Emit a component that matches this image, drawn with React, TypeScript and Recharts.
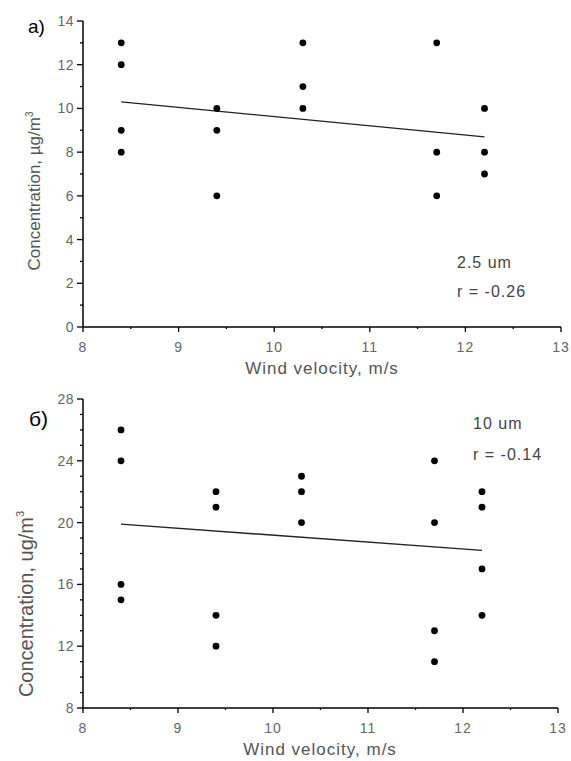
import React from 'react';
import { ScatterChart, Scatter, XAxis, YAxis } from 'recharts';

// wind velocity groups (m/s)
const windA = [8.4, 8.4, 8.4, 8.4, 9.4, 9.4, 9.4, 10.3, 10.3, 10.3, 11.7, 11.7, 11.7, 12.2, 12.2, 12.2];
const pm25 = [13, 12, 9, 8, 10, 9, 6, 13, 11, 10, 13, 8, 6, 10, 8, 7];

const windB = [8.4, 8.4, 8.4, 8.4, 9.4, 9.4, 9.4, 9.4, 10.3, 10.3, 10.3, 11.7, 11.7, 11.7, 11.7, 12.2, 12.2, 12.2, 12.2];
const pm10 = [26, 24, 16, 15, 22, 21, 14, 12, 23, 22, 20, 24, 20, 13, 11, 22, 21, 17, 14];

// linear fit endpoints
const fitX = [8.4, 12.2];
const fitA = [10.3, 8.7];
const fitB = [19.9, 18.2];

const xTicks = [8, 8.5, 9, 9.5, 10, 10.5, 11, 11.5, 12, 12.5, 13];
const yTicksA = [0, 1, 2, 3, 4, 5, 6, 7, 8, 9, 10, 11, 12, 13, 14];
const yTicksB = [8, 9, 10, 11, 12, 13, 14, 15, 16, 17, 18, 19, 20, 21, 22, 23, 24, 25, 26, 27, 28];

const FONT = '"Liberation Sans", Arial, sans-serif';
const TICK_GAP = 10; // tickSize 6 + tickMargin 4

const pointsA = windA.map((x, i) => ({ x, y: pm25[i] }));
const pointsB = windB.map((x, i) => ({ x, y: pm10[i] }));
const lineA = fitX.map((x, i) => ({ x, y: fitA[i] }));
const lineB = fitX.map((x, i) => ({ x, y: fitB[i] }));

const makeYTick = (every: number) => (props: any) => {
  const { x, y, payload } = props;
  const ax = x + TICK_GAP;
  const major = payload.value % every === 0;
  return (
    <g>
      <line x1={ax - (major ? 6 : 3)} x2={ax} y1={y} y2={y} stroke="#000" strokeWidth={1.3} />
      {major && (
        <text x={ax - 9} y={y} dy={5} textAnchor="end" fontSize={14} fill="#666" fontFamily={FONT} letterSpacing={0.5}>
          {payload.value}
        </text>
      )}
    </g>
  );
};

const XTick = (props: any) => {
  const { x, y, payload } = props;
  const ay = y - TICK_GAP;
  const major = Number.isInteger(payload.value);
  return (
    <g>
      <line x1={x} x2={x} y1={ay} y2={ay + (major ? 5 : 2)} stroke="#000" strokeWidth={1.3} />
      {major && (
        <text x={x} y={ay + 25} textAnchor="middle" fontSize={14} fill="#666" fontFamily={FONT} letterSpacing={1}>
          {payload.value}
        </text>
      )}
    </g>
  );
};

const Dot = (props: any) => <circle cx={props.cx} cy={props.cy} r={3.4} fill="#000" />;
const NoDot = () => <g />;

const Panel = ({ points, fit, yTicks, every, margin, height }: any) => (
  <ScatterChart width={571} height={height} margin={margin}>
    <XAxis
      type="number"
      dataKey="x"
      domain={[8, 13]}
      ticks={xTicks}
      interval={0}
      height={53}
      tickSize={6}
      tickMargin={4}
      tickLine={false}
      axisLine={{ stroke: '#000', strokeWidth: 1.5 }}
      tick={XTick}
    />
    <YAxis
      type="number"
      dataKey="y"
      domain={[yTicks[0], yTicks[yTicks.length - 1]]}
      ticks={yTicks}
      interval={0}
      width={60}
      tickSize={6}
      tickMargin={4}
      tickLine={false}
      axisLine={{ stroke: '#000', strokeWidth: 1.5 }}
      tick={makeYTick(every)}
    />
    <Scatter data={fit} line={{ stroke: '#222', strokeWidth: 1.4 }} shape={NoDot} isAnimationActive={false} />
    <Scatter data={points} shape={Dot} isAnimationActive={false} />
  </ScatterChart>
);

export default function App() {
  const txt = { fontFamily: FONT, fill: '#555' };
  return (
    <div style={{ position: 'absolute', left: 0, top: 0, width: 571, height: 761, background: '#fff' }}>
      <div style={{ position: 'absolute', left: 0, top: 0 }}>
        <Panel points={pointsA} fit={lineA} yTicks={yTicksA} every={2} height={380} margin={{ top: 21, right: 10, left: 23, bottom: 0 }} />
      </div>
      <div style={{ position: 'absolute', left: 0, top: 380 }}>
        <Panel points={pointsB} fit={lineB} yTicks={yTicksB} every={4} height={381} margin={{ top: 19, right: 13, left: 23, bottom: 0 }} />
      </div>
      <svg width={571} height={761} style={{ position: 'absolute', left: 0, top: 0, pointerEvents: 'none' }}>
        <text x={28} y={33} fontSize={19} fontFamily={FONT} fill="#000">a)</text>
        <text x={29} y={426} fontSize={21} fontFamily={FONT} fill="#000">б)</text>

        <text transform="translate(40,191) rotate(-90)" textAnchor="middle" fontSize={17} {...txt}>
          Concentration, µg/m<tspan fontSize={10} dy={-7}>3</tspan>
        </text>
        <text transform="translate(33,604) rotate(-90)" textAnchor="middle" fontSize={20} {...txt}>
          Concentration, ug/m<tspan fontSize={11} dy={-9}>3</tspan>
        </text>

        <text x={322} y={374} textAnchor="middle" fontSize={17} letterSpacing={1} {...txt}>Wind velocity, m/s</text>
        <text x={320} y={755} textAnchor="middle" fontSize={17} letterSpacing={1} {...txt}>Wind velocity, m/s</text>

        <text x={457} y={268} fontSize={16} letterSpacing={1} {...txt} fill="#444">2.5 um</text>
        <text x={457} y={297} fontSize={16} letterSpacing={1} {...txt} fill="#444">r = -0.26</text>
        <text x={473} y={429} fontSize={16} letterSpacing={1} {...txt} fill="#444">10 um</text>
        <text x={473} y={460} fontSize={16} letterSpacing={1} {...txt} fill="#444">r = -0.14</text>
      </svg>
    </div>
  );
}
